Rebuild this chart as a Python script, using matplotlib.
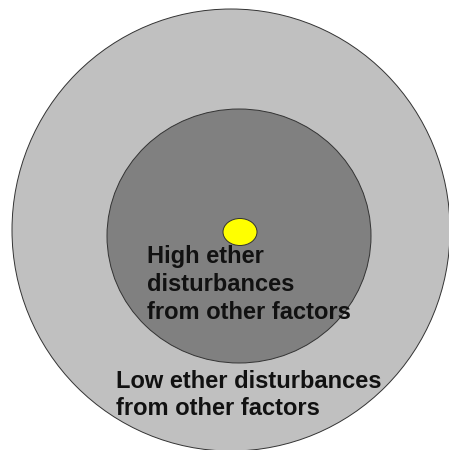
"""Concentric ether disturbance zones."""

import matplotlib.pyplot as plt
from matplotlib.patches import Ellipse

# zone labels
inner_label = "High ether\ndisturbances\nfrom other factors"
outer_label = "Low ether disturbances\nfrom other factors"

# zone fills: outer, inner, core
zone_colors = ["#c0c0c0", "#808080", "#ffff00"]

fig = plt.figure(figsize=(4.49, 4.50), dpi=100)
ax = fig.add_axes([0, 0, 1, 1])
ax.set_xlim(0, 449)
ax.set_ylim(450, 0)
ax.set_aspect("equal")
ax.axis("off")

# outer zone, inner zone, yellow core (pixel coordinates)
ax.add_patch(Ellipse((231, 230), 438, 442, facecolor=zone_colors[0],
                     edgecolor="#333333", linewidth=0.7))
ax.add_patch(Ellipse((239, 236), 264, 254, facecolor=zone_colors[1],
                     edgecolor="#333333", linewidth=0.7))
ax.add_patch(Ellipse((240, 232), 34, 27, facecolor=zone_colors[2],
                     edgecolor="#333333", linewidth=0.7))

font = dict(family=["Liberation Sans", "DejaVu Sans"], fontweight="bold",
            fontsize=17, color="#111111")
ax.text(147, 245, inner_label, ha="left", va="top", linespacing=1.29, **font)
ax.text(116, 370, outer_label, ha="left", va="top", linespacing=1.23, **font)

fig.savefig("out.png", dpi=100)
